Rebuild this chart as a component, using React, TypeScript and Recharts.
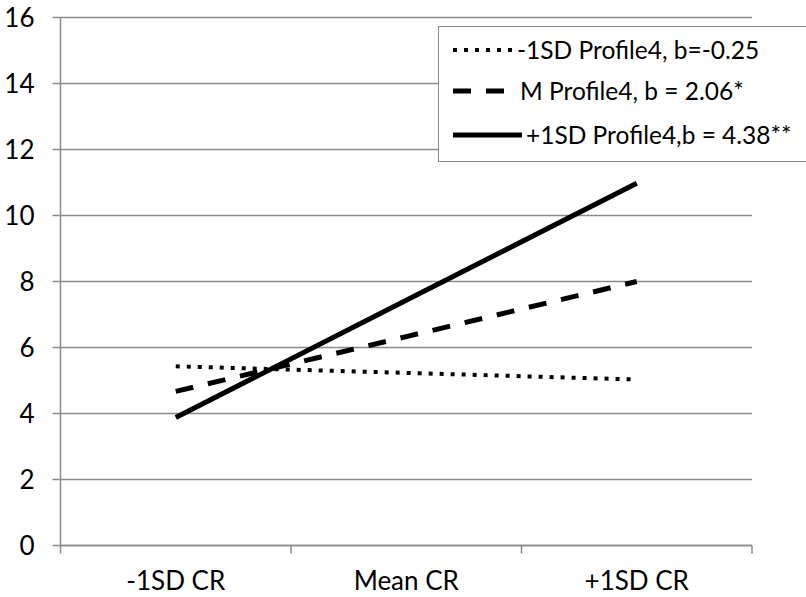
import React from "react";
import { LineChart, Line, XAxis, YAxis, CartesianGrid, Legend } from "recharts";

const categories = ["-1SD CR", "Mean CR", "+1SD CR"];
const lowProfile = [5.43, 5.23, 5.03];
const meanProfile = [4.67, 6.33, 8.0];
const highProfile = [3.88, 7.43, 10.98];
const seriesNames = [
  "-1SD Profile4, b=-0.25",
  "M Profile4, b = 2.06*",
  "+1SD Profile4,b = 4.38**",
];
const yTicks = [0, 2, 4, 6, 8, 10, 12, 14, 16];

const GRAY = "#8a8a8a";
const FONT = "Lato, 'Noto Sans', sans-serif";
const FS = 26;
const LEGEND_FS = 24.5;

const data = categories.map((c, i) => ({
  x: i + 0.5,
  name: c,
  low: lowProfile[i],
  mean: meanProfile[i],
  high: highProfile[i],
}));

const xTicks = [0, 0.5, 1, 1.5, 2, 2.5, 3];

const styles = [
  { key: "low", dash: "4 7", width: 4 },
  { key: "mean", dash: "18 15", width: 5 },
  { key: "high", dash: undefined, width: 5 },
];

function XTick(props: any) {
  const { x, y, payload } = props;
  const v = payload.value;
  if (Number.isInteger(v)) {
    return <line x1={x} x2={x} y1={y} y2={y + 8} stroke={GRAY} strokeWidth={1.5} />;
  }
  return (
    <text x={x} y={y + 44} textAnchor="middle" fontSize={FS} fontFamily={FONT} fill="#000">
      {categories[Math.floor(v)]}
    </text>
  );
}

function LegendBox() {
  const rows = [
    { y: 24, end: 74, tx: 79 },
    { y: 65, end: 74, tx: 82 },
    { y: 109, end: 84, tx: 88 },
  ];
  return (
    <div
      style={{
        width: 400,
        height: 136,
        border: `1.5px solid ${GRAY}`,
        background: "#fff",
        position: "relative",
        boxSizing: "border-box",
      }}
    >
      <svg width={400} height={136} style={{ position: "absolute", left: -1.5, top: -1.5 }}>
        {rows.map((r, i) => (
          <g key={i}>
            <line
              x1={15}
              x2={r.end}
              y1={r.y}
              y2={r.y}
              stroke="#000"
              strokeWidth={styles[i].width}
              strokeDasharray={styles[i].dash}
            />
            <text x={r.tx} y={r.y + 9} fontSize={LEGEND_FS} fontFamily={FONT} fill="#000">
              {seriesNames[i]}
            </text>
          </g>
        ))}
      </svg>
    </div>
  );
}

export default function App() {
  return (
    <div
      style={{
        position: "absolute",
        left: 0,
        top: 0,
        width: 806,
        height: 597,
        overflow: "hidden",
        background: "#fff",
      }}
    >
      <LineChart
        width={806}
        height={597}
        data={data}
        margin={{ top: 17.5, right: 54, left: 0, bottom: 0.5 }}
      >
        <CartesianGrid vertical={false} stroke={GRAY} strokeWidth={1.5} />
        <XAxis
          dataKey="x"
          type="number"
          domain={[0, 3]}
          ticks={xTicks}
          interval={0}
          tick={<XTick />}
          tickLine={false}
          tickSize={0}
          tickMargin={0}
          height={51}
          axisLine={{ stroke: GRAY, strokeWidth: 1.5 }}
        />
        <YAxis
          domain={[0, 16]}
          ticks={yTicks}
          interval={0}
          width={60.5}
          tickSize={8}
          tickMargin={18}
          tickLine={{ stroke: GRAY, strokeWidth: 1.5 }}
          axisLine={{ stroke: GRAY, strokeWidth: 1.5 }}
          tick={{ fill: "#000", fontSize: FS, fontFamily: FONT }}
        />
        <Legend
          layout="vertical"
          align="center"
          verticalAlign="middle"
          content={<LegendBox />}
          wrapperStyle={{ position: "absolute", left: 438, top: 26, width: 400 }}
        />
        {styles.map((s) => (
          <Line
            key={s.key}
            type="linear"
            dataKey={s.key}
            stroke="#000"
            strokeWidth={s.width}
            strokeDasharray={s.dash}
            dot={false}
            activeDot={false}
            isAnimationActive={false}
          />
        ))}
      </LineChart>
    </div>
  );
}
